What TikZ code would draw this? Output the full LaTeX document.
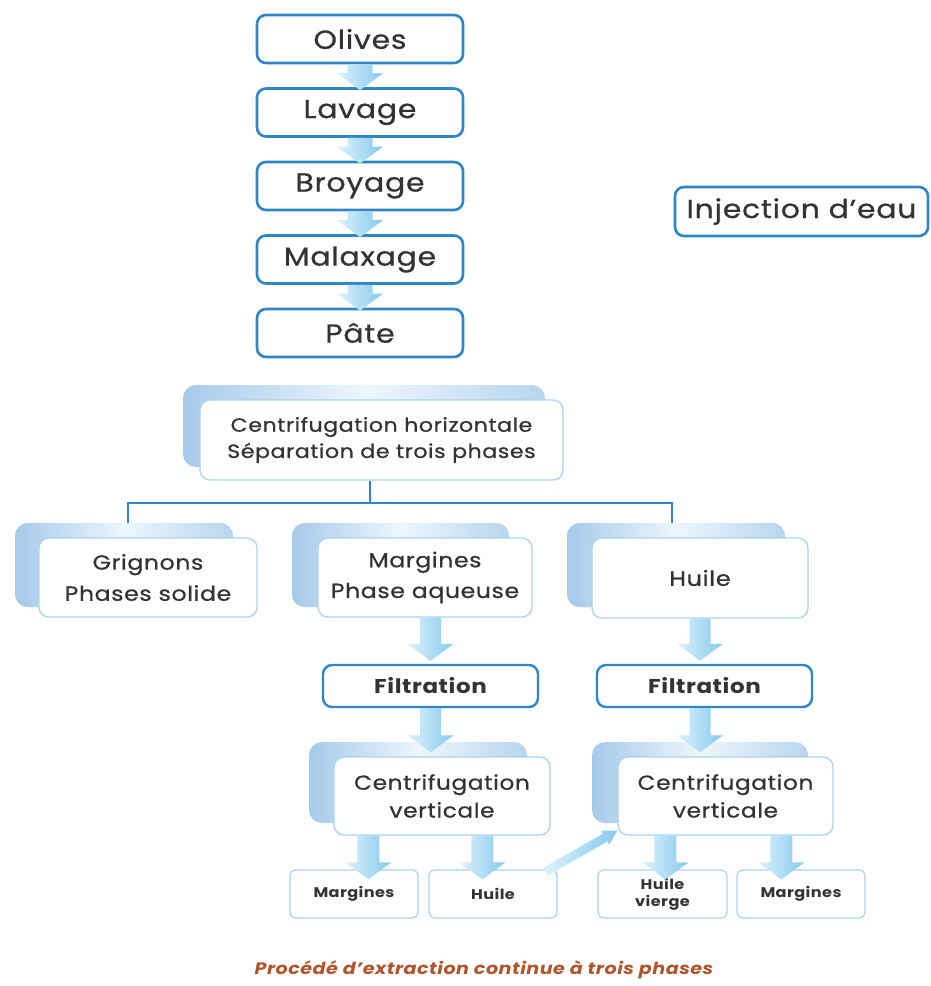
\documentclass[tikz,border=0pt]{standalone}
\usepackage{fontspec}
\setmainfont{Poppins}[FakeStretch=1.15,LetterSpace=3]
\newfontfamily\medfont{Poppins}[FakeStretch=1.15,LetterSpace=3,FakeBold=0.7]
\usetikzlibrary{calc}
\definecolor{bord}{HTML}{2F86C6}
\definecolor{lbord}{HTML}{A9D3F0}
\definecolor{shL}{HTML}{A6CAEA}
\definecolor{shM}{HTML}{EEF6FC}
\definecolor{shR}{HTML}{B8D5EE}
\definecolor{arL}{HTML}{DDF2FC}
\definecolor{arR}{HTML}{86C9EE}
\definecolor{txt}{HTML}{333333}
\definecolor{capc}{HTML}{B0552C}
\newcommand\fsz[1]{\fontsize{#1}{#1}\selectfont}
\newcommand\fatarrow[5]{%
  \path[fatarr] let \p1=(#1), \p2=(#2), \n1={atan2(\y2-\y1,\x2-\x1)} in
    ($(\p1)+(\n1+90:#3)$) -- ($(\p2)+(\n1+180:#5)+(\n1+90:#3)$) --
    ($(\p2)+(\n1+180:#5)+(\n1+90:#4)$) -- (\p2) --
    ($(\p2)+(\n1+180:#5)+(\n1-90:#4)$) -- ($(\p2)+(\n1+180:#5)+(\n1-90:#3)$) --
    ($(\p1)+(\n1-90:#3)$) -- cycle;}
\begin{document}
\begin{tikzpicture}[x=1pt,y=-1pt,
  mainbox/.style={draw=bord, line width=2.6pt, rounded corners=9pt, fill=white,
    minimum width=206pt, minimum height=48pt, inner sep=0pt, text=txt, font=\medfont\fsz{26}},
  shadowbox/.style={rounded corners=13pt, left color=shL, right color=shR, middle color=shM,
    inner sep=0pt},
  frontbox/.style={draw=lbord, line width=1.3pt, rounded corners=10pt, fill=white,
    inner sep=0pt, align=center, text=txt},
  filtbox/.style={draw=bord, line width=2.4pt, rounded corners=9pt, fill=white,
    minimum width=215pt, minimum height=42pt, inner sep=0pt, text=txt, font=\fsz{20}\bfseries},
  smallbox/.style={draw=lbord, line width=1.2pt, rounded corners=6pt, fill=white,
    minimum width=128pt, minimum height=48pt, inner sep=0pt, align=center, text=txt,
    font=\fsz{14}\bfseries},
  fatarr/.style={left color=arL, right color=arR},
  tree/.style={draw=bord, line width=2.4pt}]
\useasboundingbox[fill=white] (0,0) rectangle (930,986);

% top chain
\node[mainbox] (olives) at (360,39) {Olives};
\node[mainbox] (lavage) at (360,112.5) {Lavage};
\node[mainbox] (broyage) at (360,186) {Broyage};
\node[mainbox] (malax) at (360,259.5) {Malaxage};
\node[mainbox] (pate) at (360,333) {Pâte};
\node[mainbox, minimum width=253pt, minimum height=49pt] (inj) at (801.5,211.5) {Injection d’eau};

\fatarrow{olives.south}{$(lavage.north)+(0,3)$}{12.5pt}{23pt}{17pt}
\fatarrow{lavage.south}{$(broyage.north)+(0,3)$}{12.5pt}{23pt}{17pt}
\fatarrow{broyage.south}{$(malax.north)+(0,3)$}{12.5pt}{23pt}{17pt}
\fatarrow{malax.south}{$(pate.north)+(0,3)$}{12.5pt}{23pt}{17pt}

% tree connectors
\coordinate (bus) at (370,503);
\node[shadowbox, minimum width=218pt, minimum height=84pt] (grS) at (124,565) {};
\node[shadowbox, minimum width=217pt, minimum height=84pt] (maS) at (400.5,565) {};
\node[shadowbox, minimum width=218pt, minimum height=84pt] (huS) at (676,565) {};
\node[shadowbox, minimum width=362pt, minimum height=82pt] (chS) at (364,426) {};
\node[frontbox, minimum width=363pt, minimum height=80pt, font=\medfont\fsz{19.2}] (ch) at (381.5,440)
  {Centrifugation horizontale\\[5pt]Séparation de trois phases};
\draw[tree] (bus |- ch.south) -- (bus);
\draw[tree] ($(grS.north)+(4,0)$) |- (bus) -| ($(huS.north)+(-4,0)$);
\draw[tree] ($(maS.north)+(4,0)$) -- ($(maS.north)+(4,0)$ |- bus);
\node[shadowbox, minimum width=218pt, minimum height=84pt] at (grS) {};
\node[shadowbox, minimum width=217pt, minimum height=84pt] at (maS) {};
\node[shadowbox, minimum width=218pt, minimum height=84pt] at (huS) {};

\node[frontbox, minimum width=218pt, minimum height=79pt, font=\medfont\fsz{20.5}] (gr) at (148,577.5)
  {Grignons\\[9pt]Phases solide};
\node[frontbox, minimum width=214pt, minimum height=79pt, font=\medfont\fsz{20.5}] (ma) at (425,577.5)
  {Margines\\[9pt]Phase aqueuse};
\node[frontbox, minimum width=216pt, minimum height=80pt, font=\medfont\fsz{21}] (hu) at (700,578)
  {Huile};

% filtration
\node[filtbox] (fl) at (430.5,686) {Filtration};
\node[filtbox] (fr) at (704.5,686) {Filtration};
\fatarrow{ma.south -| fl.north}{$(fl.north)+(0,-3)$}{10.5pt}{23pt}{17pt}
\fatarrow{hu.south}{$(hu.south |- fr.north)+(0,-3)$}{10.5pt}{23pt}{17pt}

% vertical centrifugation
\node[shadowbox, minimum width=218pt, minimum height=81pt] (cvlS) at (418,782.5) {};
\node[frontbox, minimum width=216pt, minimum height=78pt, font=\medfont\fsz{20.2}] (cvl) at (442,796)
  {Centrifugation\\[6pt]verticale};
\node[shadowbox, minimum width=216pt, minimum height=81pt] (cvrS) at (700,782.5) {};
\node[frontbox, minimum width=215pt, minimum height=78pt, font=\medfont\fsz{20.2}] (cvr) at (725.5,796)
  {Centrifugation\\[6pt]verticale};
\fatarrow{fl.south}{$(fl.south |- cvl.north)+(0,-4)$}{10.5pt}{23pt}{17pt}
\fatarrow{hu.south |- fr.south}{$(hu.south |- cvr.north)+(0,-4)$}{10.5pt}{23pt}{17pt}

% bottom boxes
\node[smallbox] (m1) at (354,894) {Margines};
\node[smallbox] (h1) at (493,894) {Huile};
\node[smallbox, minimum width=129pt] (hv) at (662.5,894) {Huile\\[3pt]vierge};
\node[smallbox] (m2) at (801,894) {Margines};

\coordinate (a1) at ($(cvl.south west)+(35,0)$);
\coordinate (a2) at ($(cvl.south west)+(149,0)$);
\coordinate (a3) at ($(cvr.south west)+(48,0)$);
\coordinate (a4) at ($(cvr.south west)+(164,0)$);
\fatarrow{a1}{$(a1 |- m1.north)+(0,10)$}{11pt}{23pt}{17pt}
\fatarrow{a2}{$(a2 |- h1.north)+(0,10)$}{11pt}{23pt}{17pt}
\fatarrow{a3}{$(a3 |- hv.north)+(0,10)$}{11pt}{23pt}{17pt}
\fatarrow{a4}{$(a4 |- m2.north)+(0,10)$}{11pt}{23pt}{17pt}
\fatarrow{$(h1.north east)+(-12,2)$}{$(cvr.south west)+(0,-5)$}{4.5pt}{8pt}{14pt}

\node[text=capc, font=\fsz{16.6}\bfseries\itshape] (cap) at (484,970)
  {Procédé d’extraction continue à trois phases};
\end{tikzpicture}
\end{document}
